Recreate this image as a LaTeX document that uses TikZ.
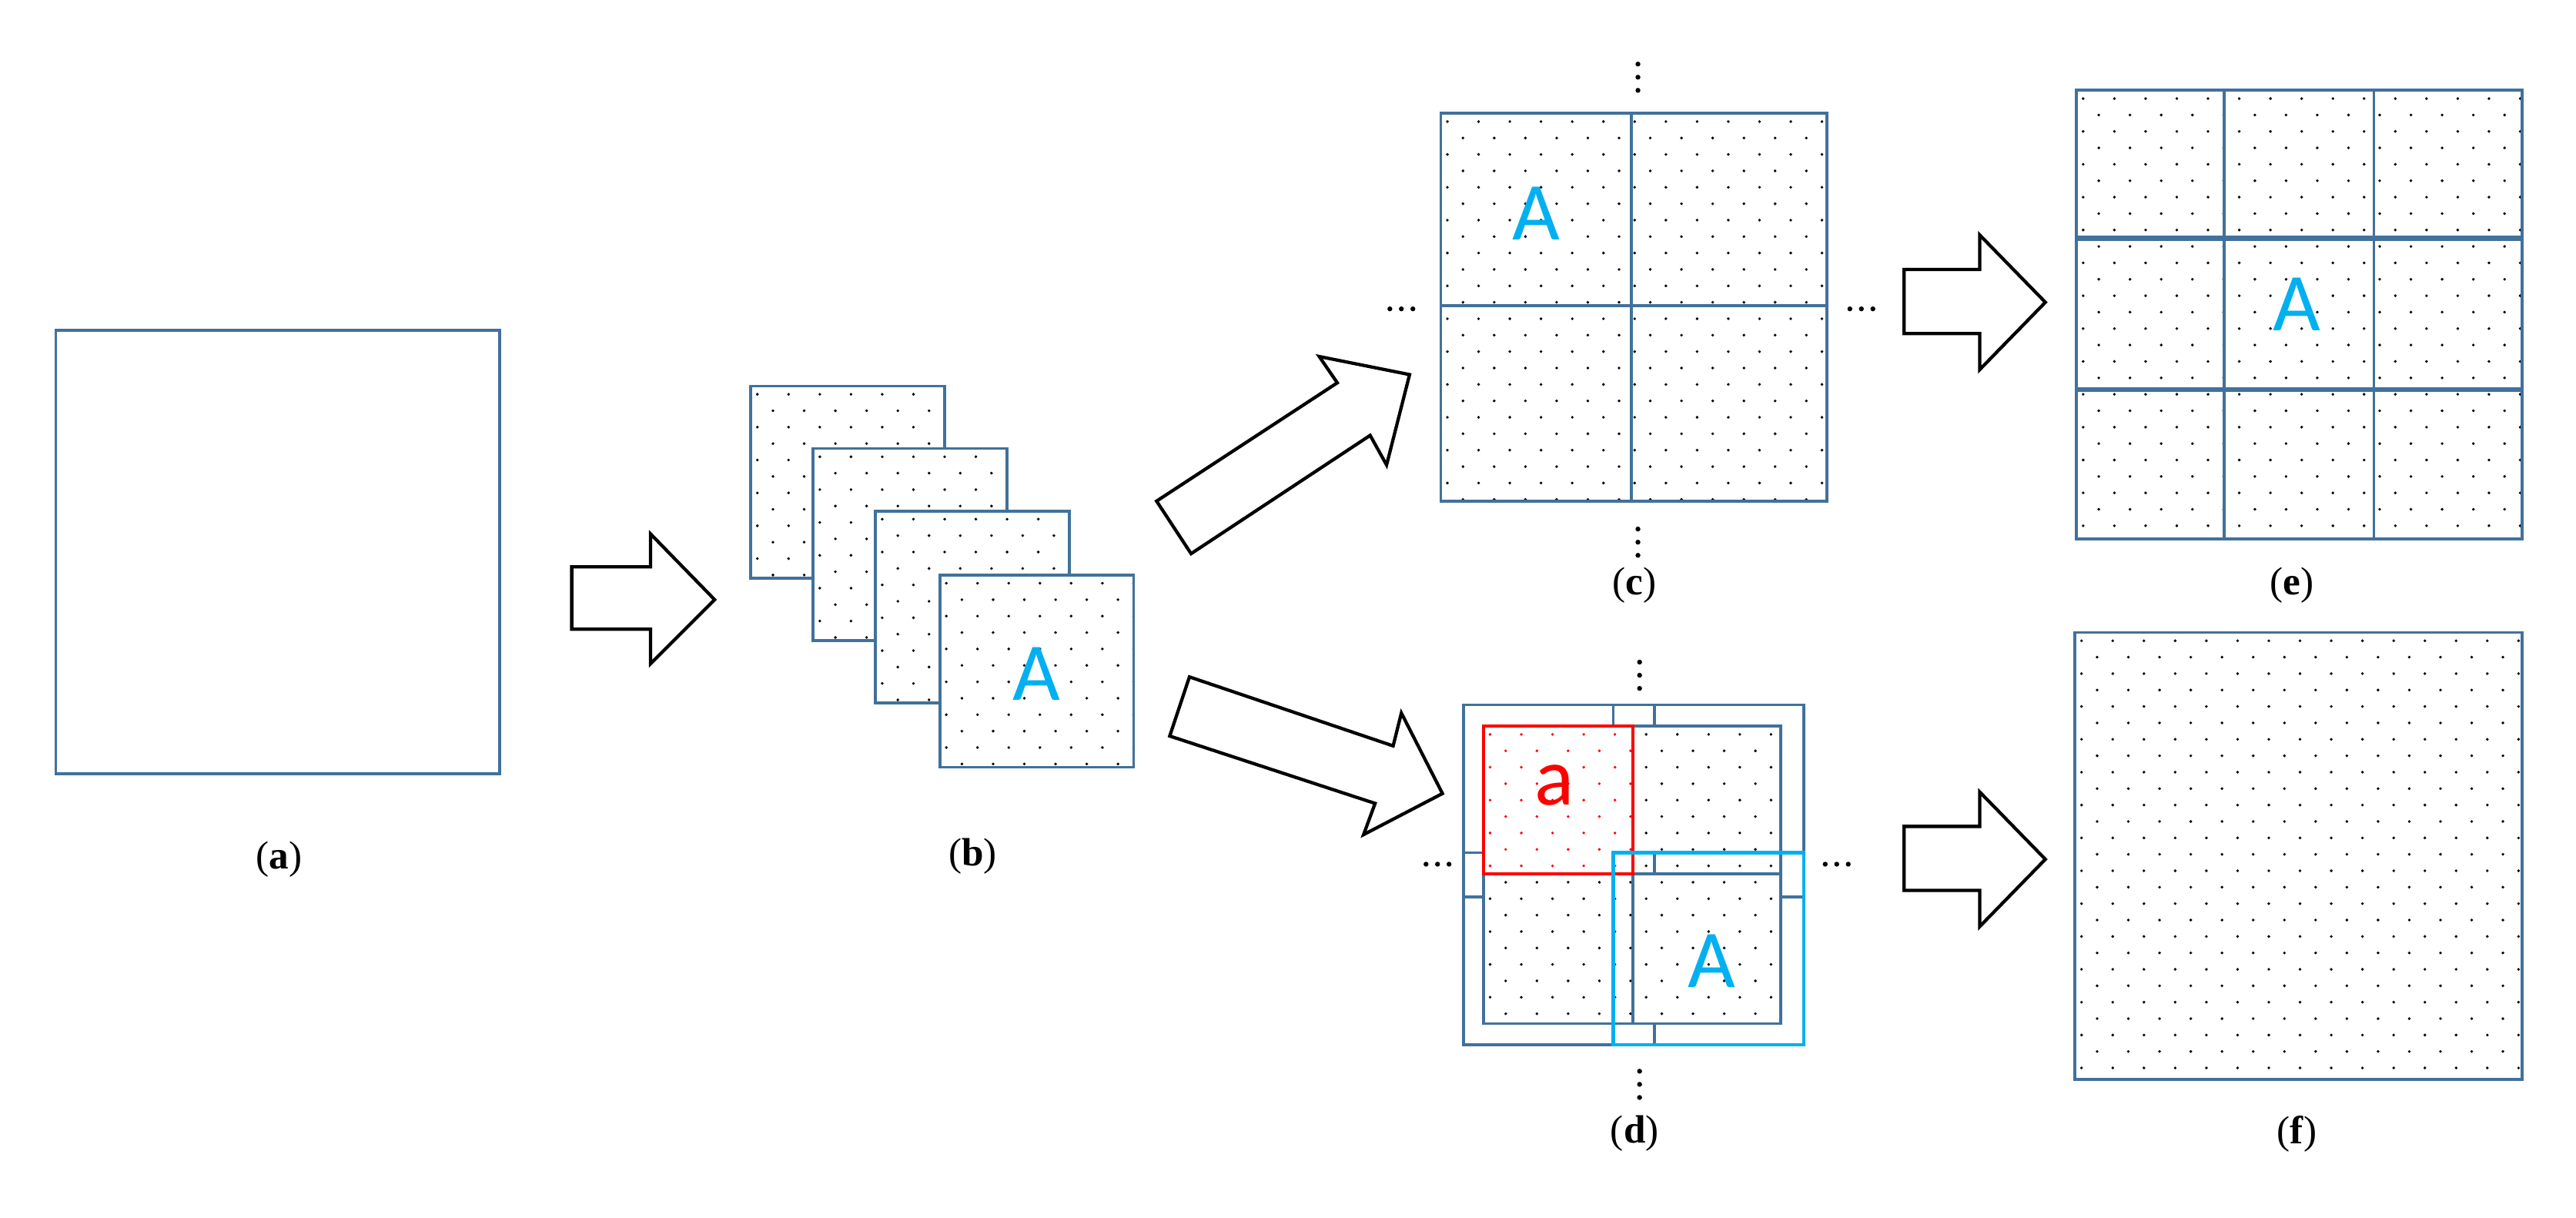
\documentclass[tikz,border=0pt]{standalone}
\usepackage{fontspec}
\setmainfont{Liberation Serif}
\newfontfamily\sansA{Carlito}
\definecolor{bl}{RGB}{65,113,156}
\definecolor{cy}{RGB}{0,176,240}
\newcommand\dotpat[5]{%
\begin{scope}
\clip (#1,#2) rectangle (#3,#4);
\pgfmathtruncatemacro\ny{(#4-#2)/10}
\pgfmathtruncatemacro\nx{(#3-#1)/19}
\foreach \i in {0,...,\ny}{\foreach \k in {0,...,\nx}{
\fill[#5] ({#1+\k*19+mod(\i,2)*9.5+4},{#2+\i*10+5}) circle (0.9);}}
\end{scope}}
\newcommand\vdotsat[2]{\foreach \d in {0,8,16}{\fill (#1,#2+\d) circle (1.5);}}
\newcommand\hdotsat[2]{\foreach \d in {0,7,14}{\fill (#1+\d,#2) circle (1.5);}}
\tikzset{
 sq/.style={draw=bl,line width=1.8},
 blk/.style={draw=black,line width=2,fill=white,line join=miter},
 lab/.style={font=\fontsize{24}{26}\selectfont},
 bigA/.style={text=cy,font=\sansA\fontsize{50}{50}\selectfont}
}
\begin{document}
\begin{tikzpicture}[x=1pt,y=-1pt]
\useasboundingbox (0,0) rectangle (1568,741);
% (a)
\draw[sq] (34,201) rectangle (304,471);
\node[lab] (la) at (170,523) {(\textbf{a})};
% arrow a->b
\draw[blk] (348,345) -- (396,345) -- (396,325) -- (435,365) -- (396,404) -- (396,383) -- (348,383) -- cycle;
% (b)
\foreach \x/\y in {457/235,495/273,533/311,572/350}{
 \fill[white] (\x,\y) rectangle ++(118,117);
 \dotpat{\x}{\y}{\x+118}{\y+117}{black}
 \draw[sq] (\x,\y) rectangle ++(118,117);
}
\node[bigA] (Ab) at (631,410) {A};
\node[lab] (lb) at (592,521) {(\textbf{b})};
% diagonal arrows
\draw[blk] (704,305) -- (814,233) -- (803,217) -- (858,228) -- (844,283) -- (834,265) -- (725,337) -- cycle;
\draw[blk] (724,412) -- (848,454) -- (853,434) -- (878,483) -- (830,508) -- (837,489) -- (712,448) -- cycle;
% (c)
\dotpat{877}{69}{1112}{305}{black}
\draw[sq] (877,69) rectangle (1112,305);
\draw[bl,line width=1.8] (993,69) -- (993,305) (877,186) -- (1112,186);
\node[bigA] (Ac) at (935,130) {A};
\vdotsat{997}{39}
\vdotsat{997}{322}
\hdotsat{846}{188}
\hdotsat{1126}{188}
\node[lab] (lc) at (995,356) {(\textbf{c})};
% arrow c->e
\draw[blk] (1159,164) -- (1205,164) -- (1205,143) -- (1245,184) -- (1205,225) -- (1205,203) -- (1159,203) -- cycle;
% (e)
\dotpat{1264}{55}{1535}{328}{black}
\draw[sq] (1264,55) rectangle (1535,328);
\draw[bl,line width=1.8] (1354,55) -- (1354,328) (1445,55) -- (1445,328);
\draw[bl,line width=3] (1264,145) -- (1535,145) (1264,237) -- (1535,237);
\node[bigA] (Ae) at (1398,185) {A};
\node[lab] (le) at (1395,356) {(\textbf{e})};
% (d)
\draw[sq] (891,429) rectangle (1007,546);
\draw[sq] (982,429) rectangle (1098,546);
\draw[sq] (891,519) rectangle (1007,636);
\fill[white] (903,442) rectangle (1084,623);
\dotpat{903}{442}{1084}{623}{black}
\fill[white] (903,442) rectangle (994,532);
\dotpat{903}{442}{994}{532}{red}
\draw[sq] (903,442) rectangle (1084,623);
\draw[bl,line width=1.8] (994,442) -- (994,623) (903,532) -- (1084,532) (1007,519) -- (1007,532);
\draw[red,line width=2] (903,442) rectangle (994,532);
\node[text=red,font=\sansA\fontsize{50}{50}\selectfont] (ad) at (946,478) {a};
\draw[cy,line width=2] (982,519) rectangle (1098,636);
\node[bigA] (Ad) at (1042,585) {A};
\vdotsat{998}{403}
\vdotsat{998}{652}
\hdotsat{868}{526}
\hdotsat{1111}{526}
\node[lab] (ld) at (995,690) {(\textbf{d})};
% arrow d->f
\draw[blk] (1159,503) -- (1205,503) -- (1205,482) -- (1245,523) -- (1205,564) -- (1205,542) -- (1159,542) -- cycle;
% (f)
\dotpat{1263}{385}{1535}{657}{black}
\draw[sq] (1263,385) rectangle (1535,657);
\node[lab] (lf) at (1398,690) {(\textbf{f})};
\end{tikzpicture}
\end{document}
